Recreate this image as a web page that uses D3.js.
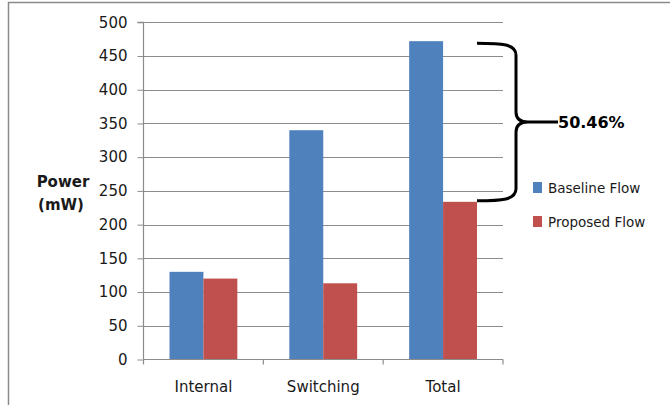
<!DOCTYPE html>
<html>
<head>
<meta charset="utf-8">
<script src="https://cdn.jsdelivr.net/npm/d3@7"></script>
<style>
  html, body { margin: 0; padding: 0; background: #fff; }
  svg { display: block; }
</style>
</head>
<body>
<svg id="chart" width="670" height="405"></svg>
<script>
// Power breakdown, baseline vs. proposed flow
const categories = ["Internal", "Switching", "Total"];
const seriesNames = ["Baseline Flow", "Proposed Flow"];
const baselineValues = [130, 340, 472];
const proposedValues = [120, 113, 233.8];
const yTicks = [0, 50, 100, 150, 200, 250, 300, 350, 400, 450, 500];
const reductionLabel = "50.46%";
const seriesColors = ["#4F81BD", "#C0504D"];

const svg = d3.select("#chart");
const font = "'DejaVu Sans', sans-serif";

// outer frame (top and left edges)
svg.append("path")
  .attr("d", "M8.5,405 L8.5,2.5 L670,2.5")
  .attr("fill", "none")
  .attr("stroke", "#8a8a8a")
  .attr("stroke-width", 1.5);

const plot = { left: 143.5, right: 503, top: 22.3, bottom: 359.5 };

const y = d3.scaleLinear().domain([0, 500]).range([plot.bottom, plot.top]);
const x0 = d3.scaleBand().domain(categories).range([plot.left, plot.right]).paddingInner(0).paddingOuter(0);
const x1 = d3.scaleBand().domain(seriesNames).range([26, x0.bandwidth() - 26]);

// horizontal gridlines
svg.append("g")
  .selectAll("line")
  .data(yTicks.filter(d => d > 0))
  .join("line")
  .attr("x1", plot.left)
  .attr("x2", plot.right)
  .attr("y1", d => Math.round(y(d)) + 0.5)
  .attr("y2", d => Math.round(y(d)) + 0.5)
  .attr("stroke", "#8c8c8c")
  .attr("stroke-width", 1);

// bars
const rows = categories.map((c, i) => ({ cat: c, vals: [baselineValues[i], proposedValues[i]] }));
svg.append("g")
  .selectAll("g")
  .data(rows)
  .join("g")
  .attr("transform", d => `translate(${x0(d.cat)},0)`)
  .selectAll("rect")
  .data(d => d.vals.map((v, j) => ({ v, j })))
  .join("rect")
  .attr("x", d => x1(seriesNames[d.j]))
  .attr("width", x1.bandwidth())
  .attr("y", d => y(d.v))
  .attr("height", d => plot.bottom - y(d.v))
  .attr("fill", d => seriesColors[d.j]);

// y axis
const yAxis = d3.axisLeft(y).tickValues(yTicks).tickSize(6).tickPadding(10);
const gy = svg.append("g")
  .attr("transform", `translate(${plot.left},0)`)
  .call(yAxis);
gy.select(".domain").attr("stroke", "#8c8c8c").attr("stroke-width", 1.2)
  .attr("d", `M-6,${plot.top}H0V${plot.bottom}`);
gy.selectAll(".tick line").attr("stroke", "#8c8c8c");
gy.selectAll(".tick text")
  .attr("font-family", font)
  .attr("font-size", 15)
  .attr("fill", "#1a1a1a")
  .attr("x", -16);

// x axis
const xAxis = d3.axisBottom(x0).tickSize(0).tickPadding(22);
const gx = svg.append("g")
  .attr("transform", `translate(0,${plot.bottom})`)
  .call(xAxis);
gx.select(".domain").attr("stroke", "#8c8c8c").attr("stroke-width", 1.2)
  .attr("d", `M${plot.left},0H${plot.right}`);
gx.selectAll(".tick text")
  .attr("font-family", font)
  .attr("font-size", 15)
  .attr("fill", "#1a1a1a");
// category boundary ticks
gx.append("g")
  .selectAll("line")
  .data(categories.map(c => x0(c)).concat([plot.right]))
  .join("line")
  .attr("x1", d => d).attr("x2", d => d)
  .attr("y1", 0).attr("y2", 5)
  .attr("stroke", "#8c8c8c")
  .attr("stroke-width", 1.2);

// y axis title
const title = svg.append("text")
  .attr("font-family", font)
  .attr("font-size", 15)
  .attr("font-weight", "bold")
  .attr("fill", "#1a1a1a")
  .attr("text-anchor", "middle");
title.append("tspan").attr("x", 63).attr("y", 187).text("Power");
title.append("tspan").attr("x", 61).attr("y", 210).text("(mW)");

// legend
const legend = svg.append("g");
seriesNames.forEach((name, i) => {
  const ly = 182 + i * 34;
  legend.append("rect")
    .attr("x", 533).attr("y", ly)
    .attr("width", 9).attr("height", 11)
    .attr("fill", seriesColors[i]);
  legend.append("text")
    .attr("x", 548).attr("y", ly + 11)
    .attr("font-family", font)
    .attr("font-size", 13.5)
    .attr("fill", "#1a1a1a")
    .text(name);
});

// brace spanning the Total bars, marking the reduction
const totalIdx = categories.indexOf("Total");
const yTop = y(baselineValues[totalIdx]) + 2;
const yBot = y(proposedValues[totalIdx]) - 1;
const yMid = (yTop + yBot) / 2;
const bx0 = x0("Total") + x1("Proposed Flow") + x1.bandwidth();
const bv = bx0 + 39;
const tip = bv + 12;
const brace = `M${bx0},${yTop} C${bx0 + 25},${yTop} ${bv},${yTop + 1} ${bv},${yTop + 12}
  L${bv},${yMid - 10} C${bv},${yMid - 3} ${bv + 4},${yMid} ${tip},${yMid}
  C${bv + 4},${yMid} ${bv},${yMid + 3} ${bv},${yMid + 10}
  L${bv},${yBot - 12} C${bv},${yBot - 1} ${bx0 + 25},${yBot} ${bx0},${yBot}
  M${tip},${yMid} L${tip + 30},${yMid}`;
svg.append("path")
  .attr("d", brace)
  .attr("fill", "none")
  .attr("stroke", "#000")
  .attr("stroke-width", 3);

svg.append("text")
  .attr("x", tip + 30)
  .attr("y", yMid + 6)
  .attr("font-family", font)
  .attr("font-size", 16)
  .attr("font-weight", "bold")
  .attr("fill", "#000")
  .text(reductionLabel);
</script>
</body>
</html>
